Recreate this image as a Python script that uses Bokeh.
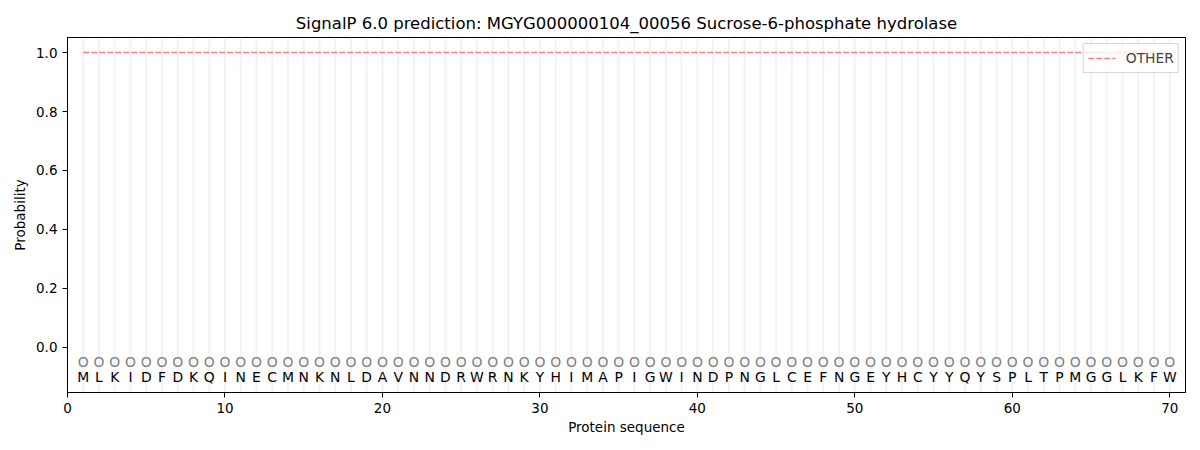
from bokeh.plotting import figure
from bokeh.models import FixedTicker, PrintfTickFormatter, Range1d, Legend, LegendItem, ColumnDataSource
from bokeh.core.properties import value
from bokeh.embed import file_html
from bokeh.resources import INLINE

sequence = list("MLKIDFDKQINECMNKNLDAVNNDRWRNKYHIMAPIGWINDPNGLCEFNGEYHCYYQYSPLTPMGGLKFW")
positions = list(range(1, len(sequence) + 1))
prob_other = [1.0] * len(sequence)
pred_label = ["O"] * len(sequence)
marker_y = [-0.05] * len(sequence)
letter_y = [-0.1] * len(sequence)
x_ticks = [0, 10, 20, 30, 40, 50, 60, 70]
y_ticks = [0.0, 0.2, 0.4, 0.6, 0.8, 1.0]

FONT = "DejaVu Sans"

p = figure(width=1192, height=442, output_backend="svg", toolbar_location=None,
           x_range=Range1d(0, 71), y_range=Range1d(-0.153, 1.051),
           min_border_left=67, min_border_right=7, min_border_top=37, min_border_bottom=50,
           title="SignalP 6.0 prediction: MGYG000000104_00056 Sucrose-6-phosphate hydrolase")
p.title.align = "center"
p.title.text_font = FONT
p.title.text_font_size = "16.5px"
p.title.text_font_style = "normal"
p.title.text_color = "black"

p.xgrid.visible = False
p.ygrid.visible = False
p.outline_line_color = "black"
p.outline_line_width = 1

for ax in (p.xaxis[0], p.yaxis[0]):
    ax.major_label_text_font = FONT
    ax.major_label_text_font_size = "13.5px"
    ax.major_label_text_color = "black"
    ax.axis_label_text_font = FONT
    ax.axis_label_text_font_size = "13.5px"
    ax.axis_label_text_font_style = "normal"
    ax.axis_label_text_color = "black"
    ax.minor_tick_line_color = None
    ax.major_tick_out = 5
    ax.major_tick_in = 0
    ax.axis_line_color = "black"
    ax.major_tick_line_color = "black"

p.xaxis.ticker = FixedTicker(ticks=x_ticks)
p.yaxis.ticker = FixedTicker(ticks=y_ticks)
p.yaxis.formatter = PrintfTickFormatter(format="%.1f")
p.xaxis.axis_label = "Protein sequence"
p.yaxis.axis_label = "Probability"
p.xaxis.axis_label_standoff = 3
p.yaxis.axis_label_standoff = 5

src = ColumnDataSource(dict(x=positions, p=prob_other, my=marker_y, ly=letter_y, aa=sequence,
                            lab=pred_label,
                            y0=[-0.153] * len(positions), y1=[1.051] * len(positions)))

p.segment(x0="x", x1="x", y0="y0", y1="y1", source=src, line_color="#d3d3d3", line_alpha=0.3, line_width=2)

line = p.line("x", "p", source=src, line_color="#ff0000", line_alpha=0.5, line_width=1.5, line_dash="6 2")

p.text("x", "my", text="lab", source=src, text_align="center", text_baseline="middle",
       text_font=value(FONT), text_font_size="13.9px", text_color="#808080")

p.text("x", "ly", text="aa", source=src, text_align="center", text_baseline="middle",
       text_font=value(FONT), text_font_size="13.9px", text_color="black")

legend = Legend(items=[LegendItem(label="OTHER", renderers=[line])], location="top_right")
legend.label_text_font = FONT
legend.label_text_font_size = "13.9px"
legend.border_line_color = "#cccccc"
legend.border_line_alpha = 0.8
legend.background_fill_alpha = 0.8
legend.glyph_width = 28
legend.margin = 6
legend.padding = 4
legend.spacing = 0
legend.label_standoff = 10
p.add_layout(legend, "center")

open("out.html", "w").write(file_html(p, INLINE))
